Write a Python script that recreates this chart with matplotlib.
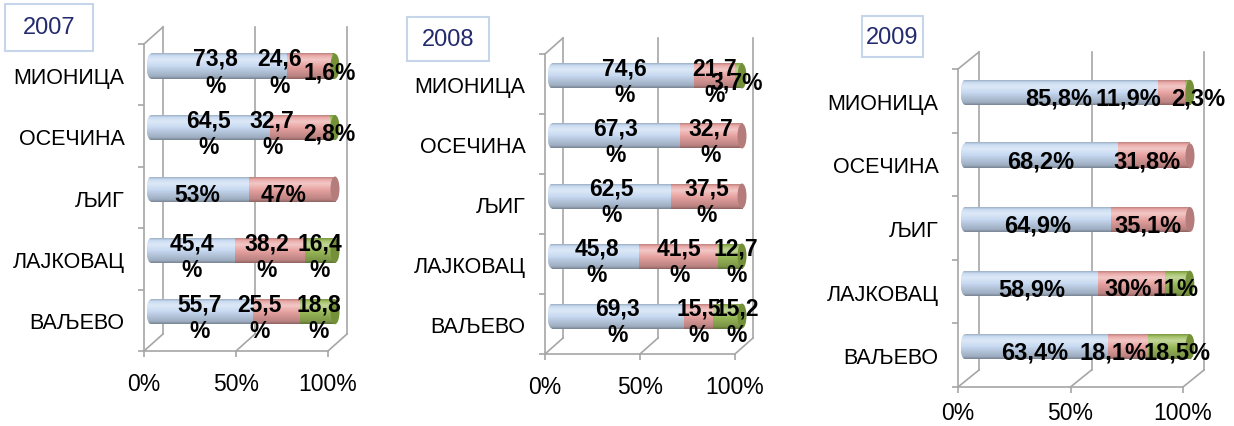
import numpy as np
import matplotlib
matplotlib.use("Agg")
import matplotlib.pyplot as plt
from matplotlib.patches import Ellipse, Rectangle
from matplotlib.colors import to_rgb

plt.rcParams["font.family"] = ["Liberation Sans", "DejaVu Sans"]

categories = ["МИОНИЦА", "ОСЕЧИНА", "ЉИГ", "ЛАЈКОВАЦ", "ВАЉЕВО"]
years = ["2007", "2008", "2009"]

# three shares per municipality (blue / red / green), top to bottom
blue_2007 = [73.8, 64.5, 53, 45.4, 55.7]
red_2007 = [24.6, 32.7, 47, 38.2, 25.5]
green_2007 = [1.6, 2.8, 0, 16.4, 18.8]

blue_2008 = [74.6, 67.3, 62.5, 45.8, 69.3]
red_2008 = [21.7, 32.7, 37.5, 41.5, 15.5]
green_2008 = [3.7, 0, 0, 12.7, 15.2]

blue_2009 = [85.8, 68.2, 64.9, 58.9, 63.4]
red_2009 = [11.9, 31.8, 35.1, 30, 18.1]
green_2009 = [2.3, 0, 0, 11, 18.5]

# label shifts (in % units) to mimic where the labels sit in the original
nudge_2007 = [[-2, -16, -2], [-1, -15, -1.5], [-1.5, -4.5, 0], [-0.7, -1.5, 0], [-1.3, -9.5, 0.4]]
nudge_2008 = [[0.7, 0, -1], [0, 0, 0], [0, 0, 0], [0.6, 0.5, 3.3], [0, 0.3, 4.6]]
nudge_2009 = [[-1.2, -19, 5], [-0.5, -3.4, 0], [0, -1, 0], [0, -1.5, -1], [-0.7, -6.5, 3.5]]

W, H = 1234, 427
GRID = "#A6A6A6"
seg_colors = ["#C6D9F1", "#E8A3A1", "#9BBB59"]
cap_colors = ["#8EA6C6", "#B47C7B", "#74913A"]

# pixel layout of each panel: front box (x0, x1, ytop, ybottom), depth (dx, dy), year box
panels = [
    dict(front=(144, 328, 45, 352), depth=(19, 17), box=(5, 5, 93, 52), wrap=True, fs=16.5, pad=11),
    dict(front=(545, 735, 55, 355), depth=(18, 16), box=(407, 18, 489, 62), wrap=True, fs=16.5, pad=11),
    dict(front=(958, 1183, 70, 388), depth=(21, 17), box=(862, 17, 923, 58), wrap=False, fs=17, pad=6),
]
series = [
    (blue_2007, red_2007, green_2007, nudge_2007),
    (blue_2008, red_2008, green_2008, nudge_2008),
    (blue_2009, red_2009, green_2009, nudge_2009),
]


def gradient(color, n=40):
    base = np.array(to_rgb(color))
    t = np.linspace(0, 1, n)
    f = np.interp(t, [0, 0.1, 0.45, 0.75, 0.9, 1.0], [0.62, 0.80, 0.97, 1.18, 1.05, 0.82])
    rows = []
    for v in f:
        if v > 1:
            rows.append(base + (1 - base) * (v - 1) * 2.2)
        else:
            rows.append(base * v)
    img = np.clip(np.array(rows), 0, 1)
    return img[:, None, :]


def fmt(v, wrap):
    s = ("%g" % v).replace(".", ",")
    if wrap and len(s) >= 4:
        return s + "\n%"
    return s + "%"


fig = plt.figure(figsize=(W / 100, H / 100), dpi=100)

for p, (blue, red, green, nudge), year in zip(panels, series, years):
    x0, x1, yt, yb = p["front"]
    ax = fig.add_axes([x0 / W, 1 - yb / H, (x1 - x0) / W, (yb - yt) / H])
    ppx = (x1 - x0) / 100.0
    ppy = (yb - yt) / 5.0
    dx = p["depth"][0] / ppx
    dy = p["depth"][1] / ppy
    ax.set_xlim(0, 100)
    ax.set_ylim(-0.5, 4.5)
    for s in ax.spines.values():
        s.set_visible(False)
    ax.patch.set_visible(False)

    # walls and floor of the 3D frame
    ax.plot([0, 0], [-0.5, 4.5], color=GRID, lw=1.2, clip_on=False, zorder=1)
    ax.plot([0, 100], [-0.5, -0.5], color=GRID, lw=1.2, clip_on=False, zorder=1)
    ax.plot([0, dx], [4.5, 4.5 + dy], color=GRID, lw=1.2, clip_on=False, zorder=1)
    for g in [0, 50, 100]:
        ax.plot([g, g + dx], [-0.5, -0.5 + dy], color=GRID, lw=1.2, clip_on=False, zorder=1)
        ax.plot([g + dx, g + dx], [-0.5 + dy, 4.5 + dy], color=GRID, lw=1.2, clip_on=False, zorder=1)

    ax.set_xticks([0, 50, 100], labels=["0%", "50%", "100%"])
    ax.set_yticks(range(5), labels=categories[::-1])
    ax.set_yticks(np.arange(-0.5, 5, 1), minor=True)
    ax.tick_params(axis="x", length=4, width=1.2, color=GRID, pad=p["pad"], labelsize=16.5)
    ax.tick_params(axis="y", which="major", length=0, pad=14, labelsize=15.5)
    ax.tick_params(axis="y", which="minor", length=4, width=1.2, color=GRID)

    bh = 25 / ppy
    ew = 9 / ppx
    start = 7 / ppx
    for i in range(5):
        y = 4 - i + dy / 2
        vals = [blue[i], red[i], green[i]]
        left = start
        # rounded left end
        el = Ellipse((start, y), ew, bh, facecolor="none", edgecolor="none")
        ax.add_patch(el)
        im = ax.imshow(gradient(seg_colors[0]), extent=(start - ew / 2, start, y - bh / 2, y + bh / 2),
                       aspect="auto", origin="lower", interpolation="bilinear", zorder=3)
        im.set_clip_path(el)
        last = 0
        for j, v in enumerate(vals):
            if v <= 0:
                continue
            im = ax.imshow(gradient(seg_colors[j]), extent=(left, left + v, y - bh / 2, y + bh / 2),
                           aspect="auto", origin="lower", interpolation="bilinear", zorder=3)
            im.set_clip_on(False)
            left += v
            last = j
        ax.add_patch(Ellipse((left, y), ew, bh, facecolor=cap_colors[last], edgecolor="none",
                             zorder=4, clip_on=False))
        cum = start
        for j, v in enumerate(vals):
            if v <= 0:
                continue
            ax.annotate(fmt(v, p["wrap"]), (cum + v / 2 + nudge[i][j], y), xytext=(0, -4),
                        textcoords="offset points", ha="center", va="center", fontsize=p["fs"],
                        fontweight="bold", annotation_clip=False, zorder=6)
            cum += v
    ax.set_xlim(0, 100)
    ax.set_ylim(-0.5, 4.5)

    bx0, by0, bx1, by1 = p["box"]
    fig.add_artist(Rectangle((bx0 / W, 1 - by1 / H), (bx1 - bx0) / W, (by1 - by0) / H,
                             transform=fig.transFigure, facecolor="white", edgecolor="#C6D5EA", lw=1.5))
    fig.text((bx0 + bx1) / 2 / W, 1 - (by0 + by1) / 2 / H, year, ha="center", va="center",
             fontsize=17, color="#232A6E")

fig.savefig("out.png", dpi=100)
